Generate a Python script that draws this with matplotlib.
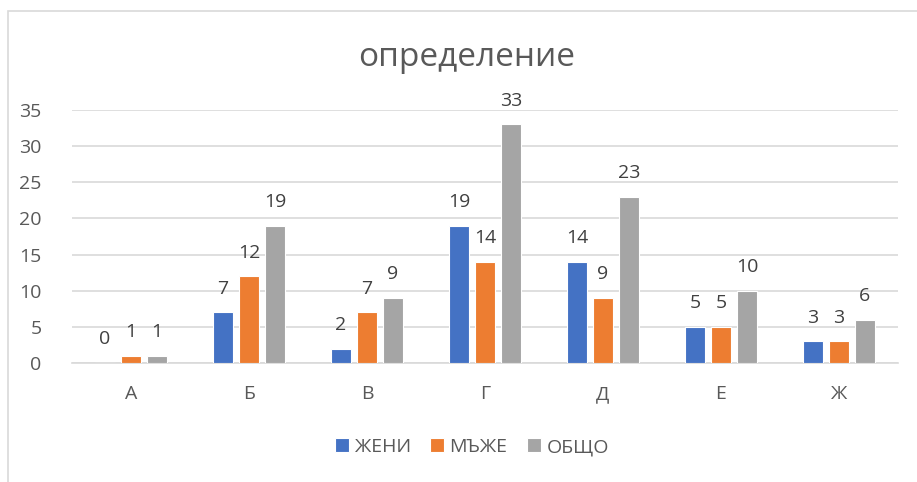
import matplotlib
matplotlib.use("Agg")
import matplotlib.pyplot as plt
from matplotlib.patches import Rectangle
import numpy as np

categories = ["А", "Б", "В", "Г", "Д", "Е", "Ж"]
zheni = [0, 7, 2, 19, 14, 5, 3]
mazhe = [1, 12, 7, 14, 9, 5, 3]
obshto = [1, 19, 9, 33, 23, 10, 6]
series_names = ["ЖЕНИ", "МЪЖЕ", "ОБЩО"]
colors = ["#4472C4", "#ED7D31", "#A5A5A5"]
yticks = [0, 5, 10, 15, 20, 25, 30, 35]

plt.rcParams['font.family'] = ['Open Sans', 'DejaVu Sans']
W, H = 917, 482
fig = plt.figure(figsize=(W / 100, H / 100), dpi=100)

# chart border
fig.patches.append(Rectangle((8 / W, -0.05), 1.1, 1 - 11 / H + 0.05, transform=fig.transFigure,
                             fill=False, edgecolor="#D9D9D9", linewidth=1.2))

left, right = 72, 898
top, bottom = 110, 363
ax = fig.add_axes([left / W, 1 - bottom / H, (right - left) / W, (bottom - top) / H])
x = np.arange(len(categories))
width = 0.17
spacing = 0.22
for i, (vals, name, c) in enumerate(zip([zheni, mazhe, obshto], series_names, colors)):
    pos = x + (i - 1) * spacing
    bars = ax.bar(pos, vals, width, color=c, edgecolor="white", linewidth=0.8, label=name, zorder=3)
    for p, v in zip(pos, vals):
        ax.annotate(str(v), (p, v), xytext=(0, 10.5), textcoords="offset points",
                    ha="center", va="bottom", fontsize=14, color="#404040")

ax.set_xlim(-0.5, len(categories) - 0.5)
ax.set_ylim(0, 35)
ax.set_yticks(yticks)
ax.set_xticks(x)
ax.set_xticklabels(categories)
ax.grid(axis="y", color="#D9D9D9", linewidth=1.2, zorder=0)
for s in ["top", "right", "left"]:
    ax.spines[s].set_visible(False)
ax.spines["bottom"].set_color("#D9D9D9")
ax.spines["bottom"].set_linewidth(1.2)
ax.tick_params(axis="both", length=0, labelsize=14, labelcolor="#595959")
ax.tick_params(axis="y", pad=22)
ax.tick_params(axis="x", pad=16)

fig.text(467 / W, 1 - 57 / H, "определение", ha="center", va="center", fontsize=24, color="#595959")

leg = fig.legend(loc="center", bbox_to_anchor=(472 / W, 1 - 447 / H), ncol=3, frameon=False,
                 fontsize=14, handlelength=0.7, handleheight=0.7, handletextpad=0.3,
                 columnspacing=1.0, labelcolor="#595959")

fig.savefig("out.png", dpi=100)
